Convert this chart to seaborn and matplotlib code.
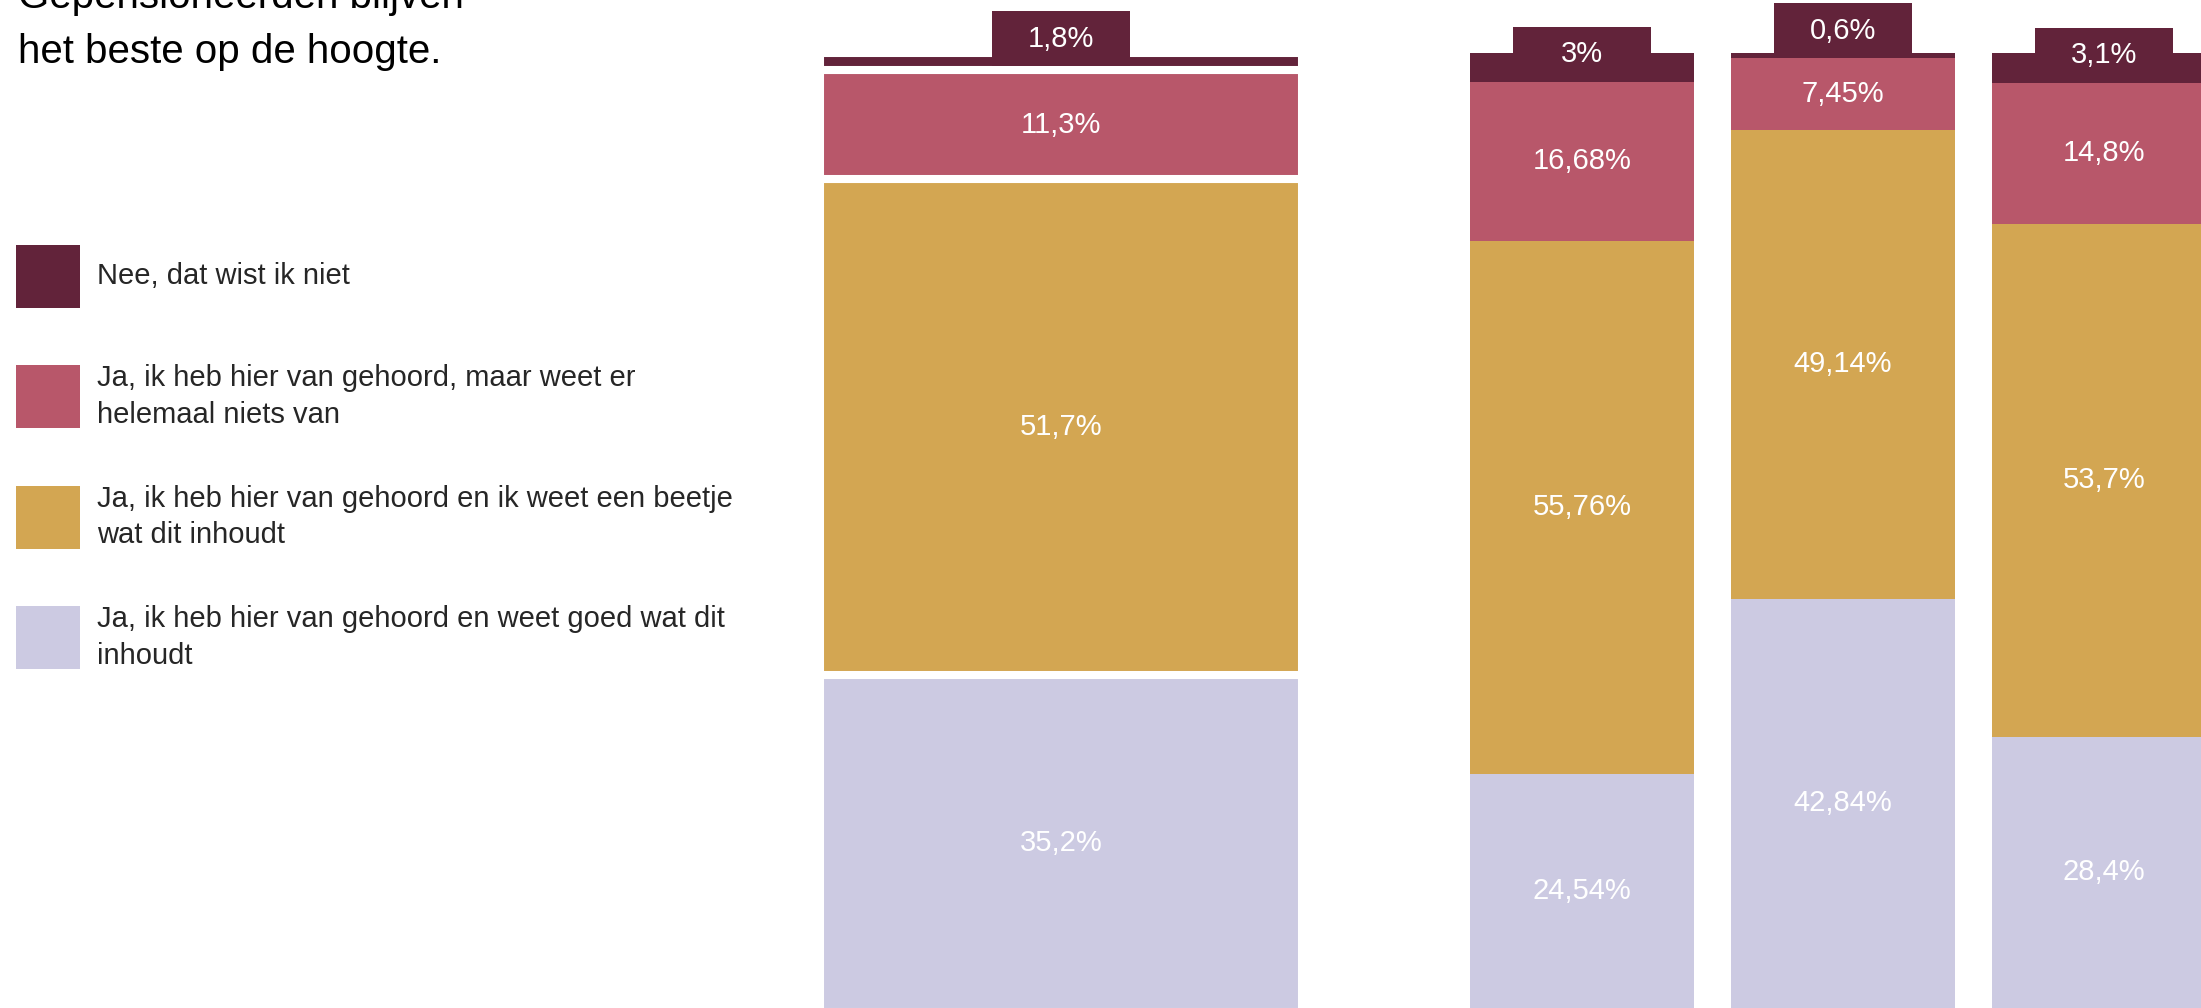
import matplotlib
matplotlib.use("Agg")
import matplotlib.pyplot as plt
import numpy as np
import pandas as pd
import seaborn as sns
from matplotlib.patches import Rectangle

# answers, from the top of a bar to its bottom
answers = ["Nee, dat wist ik niet",
           "Ja, ik heb hier van gehoord, maar weet er\nhelemaal niets van",
           "Ja, ik heb hier van gehoord en ik weet een beetje\nwat dit inhoudt",
           "Ja, ik heb hier van gehoord en weet goed wat dit\ninhoudt"]
colors = ["#62233A", "#B8576A", "#D3A652", "#CCCAE2"]

# big bar: all respondents
total_label = ["Totaal"]
total_nee = [1.8]
total_niets = [11.3]
total_beetje = [51.7]
total_goed = [35.2]

# small bars (names are cut off in the picture)
groups = ["Groep 1", "Groep 2", "Groep 3"]
nee = [3, 0.6, 3.1]
niets = [16.68, 7.45, 14.8]
beetje = [55.76, 49.14, 53.7]
goed = [24.54, 42.84, 28.4]

title_1 = "Gepensioneerden blijven"
title_2 = "het beste op de hoogte."

W, H = 2201, 1008
YMAX = 100 * H / 955
FONT = ["Liberation Sans", "DejaVu Sans"]


def pct(v):
    return f"{v:g}".replace(".", ",") + "%"


def stacked(ax, labels, series, width, **kws):
    bottom = np.zeros(len(labels))
    for values, color in zip(series[::-1], colors[::-1]):
        df = pd.DataFrame({"groep": labels, "pct": values})
        sns.barplot(data=df, x="groep", y="pct", color=color, saturation=1,
                    width=width, bottom=bottom, errorbar=None, ax=ax, **kws)
        bottom = bottom + np.array(values, dtype=float)


def add_labels(ax, series, box_px=(138, 55), lift_px=0):
    x0, x1 = ax.get_xlim()
    y0, y1 = ax.get_ylim()
    x_per_px = (x1 - x0) / (ax.get_position().width * W)
    y_per_px = (y1 - y0) / H
    n = len(series[0])
    bottom = np.zeros(n)
    for values in series[:0:-1]:
        for i, v in enumerate(values):
            ax.text(i, bottom[i] + v / 2, pct(v), ha="center", va="center",
                    color="white", fontsize=21, family=FONT, zorder=5)
        bottom = bottom + np.array(values, dtype=float)
    bw = box_px[0] * x_per_px
    bh = box_px[1] * y_per_px
    for i, v in enumerate(series[0]):
        yb = bottom[i] - lift_px * y_per_px
        ax.add_patch(Rectangle((i - bw / 2, yb), bw, bh, facecolor=colors[0],
                               edgecolor="none", zorder=4))
        ax.text(i, yb + bh / 2, pct(v), ha="center", va="center",
                color="white", fontsize=21, family=FONT, zorder=5)


sns.set_style("white")
fig = plt.figure(figsize=(W / 100, H / 100), dpi=100)

# big bar, segments split by white gaps
ax1 = fig.add_axes([760 / W, 0, 602.5 / W, 1])
series1 = [total_nee, total_niets, total_beetje, total_goed]
stacked(ax1, total_label, series1, 0.8, edgecolor="white", linewidth=5.8)
ax1.set_xlim(-0.5, 0.5)
ax1.set_ylim(4 * YMAX / H, YMAX)
ax1.axis("off")
add_labels(ax1, series1, lift_px=-4)

# small bars
ax2 = fig.add_axes([1400 / W, 0, 801 / W, 1])
series2 = [nee, niets, beetje, goed]
stacked(ax2, groups, series2, 224 / 261, linewidth=0)
ax2.set_xlim((1400 - 1582) / 261, (2201 - 1582) / 261)
ax2.set_ylim(0, YMAX)
ax2.axis("off")
add_labels(ax2, series2)

# title, cut off at the top as in the source
fig.text(18 / W, 1 - 8 / H, title_1, fontsize=29, family=FONT,
         va="baseline", color="black")
fig.text(18 / W, 1 - 63 / H, title_2, fontsize=29, family=FONT,
         va="baseline", color="black")

# legend
for k, (label, color) in enumerate(zip(answers, colors)):
    yc = 276 + k * 120.5
    fig.add_artist(Rectangle((16 / W, 1 - (yc + 31.5) / H), 64 / W, 63 / H,
                             transform=fig.transFigure, facecolor=color,
                             edgecolor="none"))
    fig.text(97 / W, 1 - yc / H, label, fontsize=21, family=FONT,
             va="center", ha="left", color="#262626", linespacing=1.4)

fig.savefig("out.png", dpi=100)
